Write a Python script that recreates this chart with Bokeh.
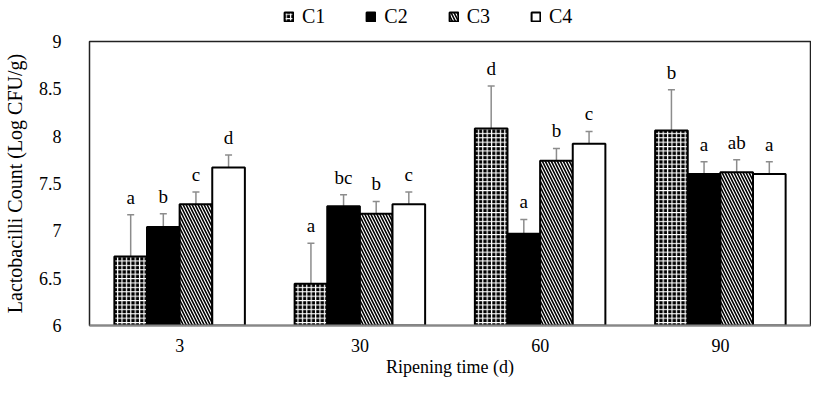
from bokeh.plotting import figure
from bokeh.layouts import column
from bokeh.models import (ColumnDataSource, FactorRange, Range1d, Whisker, TeeHead,
                          Legend, LegendItem, NumeralTickFormatter, FixedTicker)
from bokeh.transform import dodge
from bokeh.core.properties import value
from bokeh.embed import file_html
from bokeh.resources import INLINE

days = ["3", "30", "60", "90"]
series = ["C1", "C2", "C3", "C4"]
c1 = [6.73, 6.44, 8.08, 8.06]
c2 = [7.04, 7.26, 6.97, 7.60]
c3 = [7.28, 7.18, 7.74, 7.62]
c4 = [7.67, 7.28, 7.92, 7.60]
c1_err = [0.44, 0.43, 0.45, 0.43]
c2_err = [0.14, 0.12, 0.15, 0.13]
c3_err = [0.13, 0.13, 0.13, 0.13]
c4_err = [0.13, 0.13, 0.13, 0.13]
c1_lbl = ["a", "a", "d", "b"]
c2_lbl = ["b", "bc", "a", "a"]
c3_lbl = ["c", "b", "b", "ab"]
c4_lbl = ["d", "c", "c", "a"]
y_ticks = [6, 6.5, 7, 7.5, 8, 8.5, 9]

FONT = "Liberation Serif"
LEG_H = 29

# legend strip
lg = figure(width=811, height=LEG_H, x_range=Range1d(0, 1), y_range=Range1d(0, 1),
            x_axis_type=None, y_axis_type=None, output_backend="svg", toolbar_location=None,
            min_border=0)
lg.outline_line_color = None
lg.xgrid.visible = False
lg.ygrid.visible = False

p = figure(width=811, height=379 - LEG_H, x_range=FactorRange(*days, range_padding=0),
           y_range=Range1d(6, 9), output_backend="svg", toolbar_location=None,
           min_border_left=86, min_border_right=1, min_border_top=12, min_border_bottom=52)
p.xgrid.visible = False
p.ygrid.visible = False
p.outline_line_color = "#222222"
p.outline_line_width = 1.5

vals = [c1, c2, c3, c4]
errs = [c1_err, c2_err, c3_err, c4_err]
lbls = [c1_lbl, c2_lbl, c3_lbl, c4_lbl]
offsets = [-0.2715, -0.0905, 0.0905, 0.2715]
styles = [
    dict(fill_color="black", hatch_pattern="cross", hatch_color="white", hatch_scale=4.4, hatch_weight=1.2),
    dict(fill_color="black"),
    dict(fill_color="white", hatch_pattern="left_diagonal_line", hatch_color="black", hatch_scale=6, hatch_weight=1.6),
    dict(fill_color="white"),
]

items = []
for name, v, e, lb, off, st in zip(series, vals, errs, lbls, offsets, styles):
    src = ColumnDataSource(dict(x=days, top=v,
                                upper=[a + b for a, b in zip(v, e)],
                                lower=[a - b for a, b in zip(v, e)],
                                lbl=lb))
    p.vbar(x=dodge("x", off, range=p.x_range), top="top", bottom=6, width=0.181,
           source=src, line_color="black", line_width=2, **st)
    # hidden renderer that only supplies the legend key style
    key = lg.vbar(x=[0.5], top=[0.5], width=0.1, line_color="black", line_width=2,
                  visible=False, **st)
    items.append(LegendItem(label=name, renderers=[key]))
    w = Whisker(base=dodge("x", off, range=p.x_range), upper="upper", lower="lower",
                source=src, line_color="#8c8c8c", line_width=1.5,
                upper_head=TeeHead(size=7, line_color="#8c8c8c", line_width=1.5),
                lower_head=TeeHead(size=7, line_color="#8c8c8c", line_width=1.5))
    p.add_layout(w)
    p.text(x=dodge("x", off, range=p.x_range), y="upper", text="lbl", source=src,
           text_align="center", text_baseline="bottom", y_offset=-7,
           text_font=value(FONT), text_font_size="19px", text_color="black")

legend = Legend(items=items, orientation="horizontal", location=(194, 1),
                glyph_width=11, glyph_height=11, label_standoff=8, spacing=40,
                label_text_font=FONT, label_text_font_size="20px", label_height=18,
                label_text_color="black", inactive_fill_alpha=0,
                padding=0, margin=0, border_line_alpha=0, background_fill_alpha=0)
lg.add_layout(legend, "center")

p.yaxis.ticker = FixedTicker(ticks=y_ticks)
p.yaxis.formatter = NumeralTickFormatter(format="0.[0]")
for ax in (p.xaxis, p.yaxis):
    ax.major_tick_line_color = None
    ax.minor_tick_line_color = None
    ax.major_label_text_font = FONT
    ax.major_label_text_font_size = "18px"
    ax.major_label_text_color = "black"
    ax.axis_label_text_font = FONT
    ax.axis_label_text_font_style = "normal"
    ax.axis_label_text_color = "black"
p.yaxis.axis_line_color = None
p.xaxis.axis_line_color = "#888888"
p.xaxis.axis_line_width = 2
p.yaxis.major_label_standoff = 22
p.xaxis.major_label_standoff = 7
p.xaxis.axis_label = "Ripening time (d)"
p.yaxis.axis_label = "Lactobacilli Count (Log CFU/g)"
p.xaxis.axis_label_text_font_size = "18px"
p.yaxis.axis_label_text_font_size = "20px"
p.xaxis.axis_label_standoff = 2
p.yaxis.axis_label_standoff = 10

layout = column(lg, p, spacing=0)
open("out.html", "w").write(file_html(layout, INLINE))
